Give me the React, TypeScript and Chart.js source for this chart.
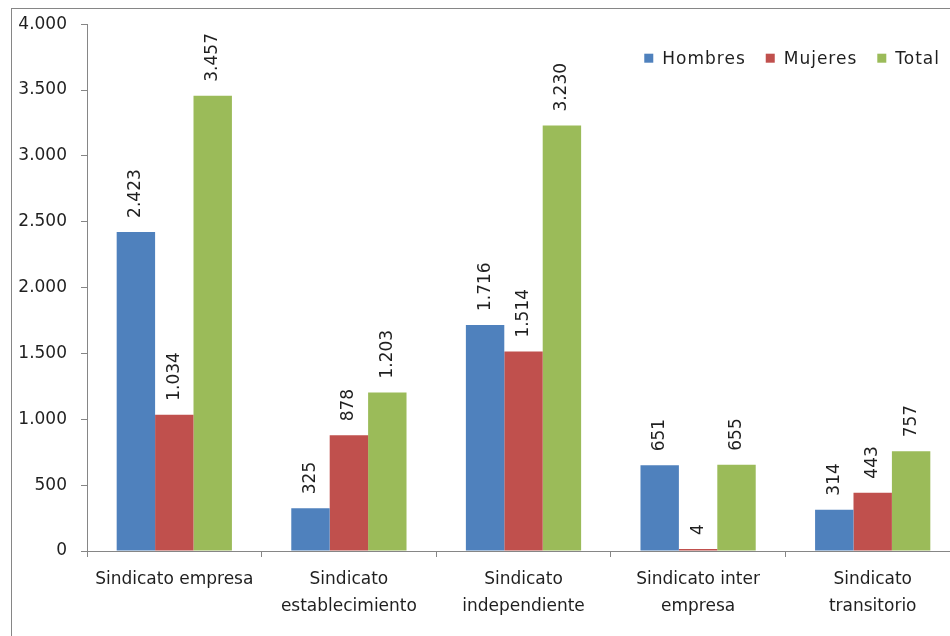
import React, { useEffect, useRef } from "react";
import { Chart, registerables } from "chart.js";

Chart.register(...registerables);

const categories: string[][] = [
  ["Sindicato empresa"],
  ["Sindicato", "establecimiento"],
  ["Sindicato", "independiente"],
  ["Sindicato inter", "empresa"],
  ["Sindicato", "transitorio"],
];
const hombres = [2423, 325, 1716, 651, 314];
const mujeres = [1034, 878, 1514, 4, 443];
const total = [3457, 1203, 3230, 655, 757];
const seriesNames = ["Hombres", "Mujeres", "Total"];
const seriesColors = ["#4F81BD", "#C0504D", "#9BBB59"];
const yTicksMax = 4000;
const yTickStep = 500;

const fmt = (v: number) =>
  String(Math.round(v)).replace(/\B(?=(\d{3})+(?!\d))/g, ".");

const FONT = "'DejaVu Sans', Verdana, sans-serif";
const FS = 17;
const AXIS_COLOR = "#868686";
const TEXT_COLOR = "#1f1f1f";

const borderPlugin = {
  id: "outerBorder",
  beforeDraw(chart: any) {
    const ctx = chart.ctx;
    ctx.save();
    ctx.fillStyle = "#ffffff";
    ctx.fillRect(0, 0, chart.width, chart.height);
    ctx.strokeStyle = AXIS_COLOR;
    ctx.lineWidth = 1;
    ctx.strokeRect(11.5, 8.5, chart.width + 50, chart.height + 50);
    ctx.restore();
  },
};

const valueLabels = {
  id: "valueLabels",
  afterDatasetsDraw(chart: any) {
    const ctx = chart.ctx;
    ctx.save();
    ctx.font = `${FS}px ${FONT}`;
    ctx.fillStyle = TEXT_COLOR;
    ctx.textAlign = "left";
    ctx.textBaseline = "middle";
    chart.data.datasets.forEach((ds: any, di: number) => {
      const meta = chart.getDatasetMeta(di);
      meta.data.forEach((el: any, i: number) => {
        const v = ds.data[i];
        ctx.save();
        ctx.translate(el.x, el.y - 14);
        ctx.rotate(-Math.PI / 2);
        ctx.fillText(fmt(v), 0, 0);
        ctx.restore();
      });
    });
    ctx.restore();
  },
};

const insideLegend = {
  id: "insideLegend",
  afterDraw(chart: any) {
    const ctx = chart.ctx;
    const area = chart.chartArea;
    ctx.save();
    ctx.font = `${FS}px ${FONT}`;
    try {
      (ctx as any).letterSpacing = "1px";
    } catch (e) {}
    ctx.textAlign = "left";
    ctx.textBaseline = "middle";
    const box = 9;
    const gap = 9;
    const spacing = 20;
    const items = chart.data.datasets.map((ds: any) => ({
      text: ds.label,
      color: ds.backgroundColor,
      w: box + gap + ctx.measureText(ds.label).width,
    }));
    const totalW =
      items.reduce((a: number, it: any) => a + it.w, 0) + spacing * (items.length - 1);
    let x = area.right - 20 - totalW;
    const cy = area.top + 34;
    items.forEach((it: any) => {
      ctx.fillStyle = it.color;
      ctx.fillRect(x, cy - box / 2, box, box);
      ctx.fillStyle = TEXT_COLOR;
      ctx.fillText(it.text, x + box + gap, cy + 1);
      x += it.w + spacing;
    });
    ctx.restore();
  },
};

export default function App() {
  const ref = useRef<HTMLCanvasElement | null>(null);

  useEffect(() => {
    if (!ref.current) return;
    const chart = new Chart(ref.current, {
      type: "bar",
      data: {
        labels: categories,
        datasets: seriesNames.map((name, i) => ({
          label: name,
          data: [hombres, mujeres, total][i],
          backgroundColor: seriesColors[i],
          borderWidth: 0,
          minBarLength: 2,
        })),
      },
      options: {
        animation: false,
        responsive: false,
        maintainAspectRatio: false,
        layout: { padding: { left: 11, top: 23, right: 40, bottom: 0 } },
        datasets: {
          bar: { categoryPercentage: 0.66, barPercentage: 1 },
        },
        plugins: {
          tooltip: { enabled: false },
          title: { display: false },
          legend: { display: false },
        },
        scales: {
          x: {
            offset: true,
            grid: {
              display: true,
              offset: true,
              drawOnChartArea: false,
              drawTicks: true,
              tickLength: 6,
              color: AXIS_COLOR,
            },
            border: { display: true, color: AXIS_COLOR },
            ticks: {
              color: TEXT_COLOR,
              padding: 9,
              maxRotation: 0,
              autoSkip: false,
              font: { family: FONT, size: FS, lineHeight: 1.6 },
            },
            afterFit: (s: any) => {
              s.height = 680 - 551;
            },
          },
          y: {
            min: 0,
            max: yTicksMax,
            grid: {
              display: true,
              drawOnChartArea: false,
              drawTicks: true,
              tickLength: 6,
              color: AXIS_COLOR,
            },
            border: { display: true, color: AXIS_COLOR },
            ticks: {
              stepSize: yTickStep,
              color: TEXT_COLOR,
              padding: 14,
              font: { family: FONT, size: FS },
              callback: (v: any) => fmt(Number(v)),
            },
            afterFit: (s: any) => {
              s.width = 76;
            },
          },
        },
      },
      plugins: [borderPlugin, valueLabels, insideLegend],
    });
    return () => chart.destroy();
  }, []);

  return (
    <div
      style={{
        position: "fixed",
        left: 0,
        top: 0,
        width: 950,
        height: 636,
        overflow: "hidden",
        background: "#fff",
      }}
    >
      <canvas ref={ref} width={1000} height={680} style={{ width: 1000, height: 680, display: "block" }} />
    </div>
  );
}
